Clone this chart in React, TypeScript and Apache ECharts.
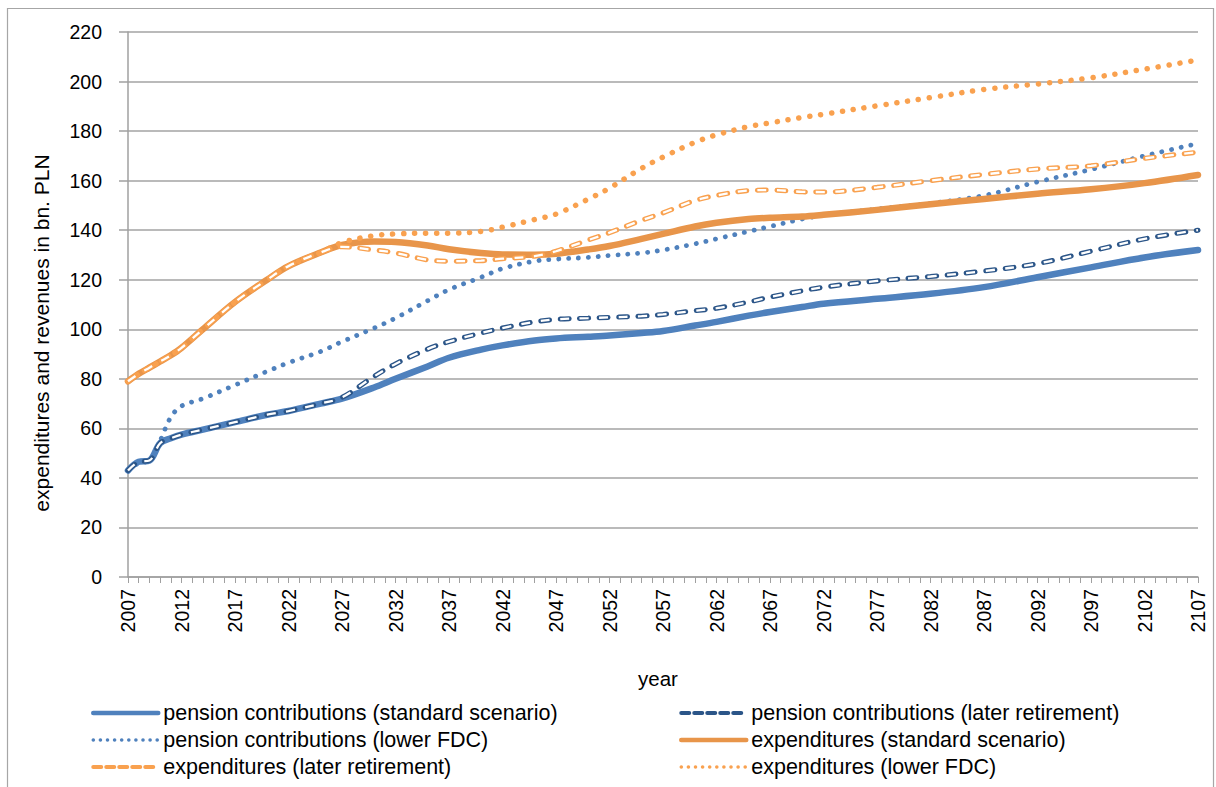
import React, { useEffect, useRef } from "react";
import * as echarts from "echarts";

// ---- data ----
const firstYear = 2007;
const lastYear = 2107;
const years: string[] = [];
for (let y = firstYear; y <= lastYear; y++) years.push(String(y));

const sampleYears = [
  2007, 2008, 2009, 2010, 2011, 2012, 2014, 2017, 2020, 2022, 2025, 2027, 2030, 2032, 2035, 2037,
  2040, 2042, 2045, 2047, 2050, 2052, 2055, 2057, 2060, 2062, 2065, 2067, 2070, 2072, 2077, 2082,
  2087, 2092, 2097, 2102, 2107,
];

const pcStandard = [
  43, 46.5, 47, 54, 56, 57.5, 59.5, 62.5, 65.5, 67, 70, 72, 76.5, 80, 85, 88.5,
  91.8, 93.5, 95.5, 96.3, 97, 97.5, 98.5, 99.3, 101.5, 103, 105.5, 107, 109, 110.3, 112.3, 114.3,
  117, 121, 125, 129, 132,
];
const pcLater = [
  43, 46.5, 47, 54, 56, 57.5, 59.5, 62.5, 65.5, 67, 70, 72.5, 81, 86, 92, 95,
  98.5, 100.5, 103, 104, 104.5, 104.8, 105.3, 106, 107.5, 108.5, 111, 113, 115.5, 117, 119.5, 121.3,
  123.5, 126.5, 131.5, 136.5, 140,
];
const pcLowerFdc = [
  43, 46, 47, 55, 64.5, 69, 72, 77.5, 83, 86.5, 91, 95, 100.5, 104.5, 111.5, 116,
  121, 124.5, 127.5, 128.3, 129, 129.8, 130.8, 132, 134.5, 136.5, 139.5, 141.5, 144.5, 146, 148.5, 150.8,
  154, 159.5, 164.5, 170, 175,
];
const expStandard = [
  79, 82, 84.5, 87, 89.5, 92.5, 100, 111, 120, 125.5, 131, 134, 135.4, 135.2, 133.8, 132.3,
  130.8, 130.2, 130.1, 130.5, 132.2, 133.6, 136.5, 138.5, 141.5, 143, 144.5, 145, 145.5, 146.2, 148.2, 150.5,
  152.6, 154.7, 156.5, 159, 162.3,
];
const expLater = [
  79, 82, 84.5, 87, 89.5, 92.5, 100, 111, 120, 125.5, 131, 133.3, 132, 130.8, 128, 127.5,
  127.7, 128.5, 129.5, 131.5, 136, 139, 144, 147, 152, 154, 156, 156.2, 155.5, 155.4, 157.3, 160,
  162.5, 164.7, 166, 169, 171.5,
];
const expLowerFdc = [
  79, 82, 84.5, 87, 89.5, 92.5, 100, 111, 120, 125.5, 131, 135, 137.8, 138.5, 138.8, 138.8,
  139.5, 141.2, 144.3, 146.5, 152.5, 157, 165, 169.5, 175.5, 178.5, 181.8, 183.3, 185.5, 186.8, 190.2, 193.5,
  196.8, 199, 201.5, 205, 208.7,
];

const yTicks = { min: 0, max: 220, interval: 20 };

const names = {
  pcStandard: "pension contributions (standard scenario)",
  pcLater: "pension contributions (later retirement)",
  pcLowerFdc: "pension contributions (lower FDC)",
  expStandard: "expenditures (standard scenario)",
  expLater: "expenditures (later retirement)",
  expLowerFdc: "expenditures (lower FDC)",
};

const yTitle = "expenditures and revenues in bn. PLN";
const xTitle = "year";

// ---- helpers ----
function toPairs(values: number[]): [string, number][] {
  return sampleYears.map((y, i) => [String(y), values[i]]);
}

const FONT = "'Liberation Sans', Arial, Helvetica, sans-serif";

function lineSeries(name: string, values: number[], lineStyle: any, z: number) {
  return {
    name,
    type: "line",
    data: toPairs(values),
    smooth: 0.35,
    showSymbol: false,
    symbol: "none",
    z,
    lineStyle,
    itemStyle: { color: lineStyle.color },
    emphasis: { disabled: true },
  };
}

const C_BLUE = "#4f81bd";
const C_NAVY = "#2b5588";
const C_ORANGE = "#e8954a";
const C_ORANGE_LIGHT = "#f9a14f";

const hollowDash = [9, 10.5];

const blueDot = { color: C_BLUE, width: 4.8, type: [0.1, 9.8], cap: "round" };
const orangeDot = { color: C_ORANGE_LIGHT, width: 5.5, type: [0.1, 10.9], cap: "round" };

export default function App() {
  const ref = useRef<HTMLDivElement>(null);
  useEffect(() => {
    document.body.style.margin = "0";
    const chart = echarts.init(ref.current!, undefined, { renderer: "svg" });
    const series = [
      lineSeries(names.pcStandard, pcStandard, { color: C_BLUE, width: 6.5, type: "solid", cap: "round", join: "round" }, 2),
      lineSeries(names.pcLowerFdc, pcLowerFdc, blueDot, 3),
      lineSeries(names.expStandard, expStandard, { color: C_ORANGE, width: 6.5, type: "solid", cap: "round", join: "round" }, 4),
      lineSeries(names.expLowerFdc, expLowerFdc, orangeDot, 5),
      lineSeries(names.pcLater, pcLater, { color: C_NAVY, width: 5, type: hollowDash, cap: "round" }, 6),
      lineSeries("pcLaterInner", pcLater, { color: "#ffffff", width: 2.3, type: hollowDash, cap: "butt" }, 7),
      lineSeries(names.expLater, expLater, { color: C_ORANGE_LIGHT, width: 5, type: hollowDash, cap: "round" }, 6),
      lineSeries("expLaterInner", expLater, { color: "#ffffff", width: 2.3, type: hollowDash, cap: "butt" }, 7),
    ];
    const legendBase = {
      orient: "vertical",
      top: 702,
      height: 84,
      padding: 0,
      itemWidth: 65,
      itemHeight: 14,
      itemGap: 5,
      itemStyle: { opacity: 0 },
      selectedMode: false,
      textStyle: { fontFamily: FONT, fontSize: 21.5, color: "#000", lineHeight: 22 },
    };
    const item = (name: string, ls: any) => ({ name, lineStyle: ls });
    chart.setOption({
      animation: false,
      backgroundColor: "#ffffff",
      textStyle: { fontFamily: FONT },
      grid: { left: 128, right: 18, top: 32, bottom: 210, containLabel: false },
      legend: [
        {
          ...legendBase,
          left: 91,
          data: [
            item(names.pcStandard, { color: C_BLUE, width: 4.5, type: "solid" }),
            item(names.pcLowerFdc, { color: C_BLUE, width: 3.5, type: [0.1, 7], cap: "round" }),
            item(names.expLater, { color: C_ORANGE_LIGHT, width: 4, type: [8, 5], cap: "round" }),
          ],
        },
        {
          ...legendBase,
          left: 679,
          data: [
            item(names.pcLater, { color: C_NAVY, width: 4, type: [8, 5], cap: "round" }),
            item(names.expStandard, { color: C_ORANGE, width: 4.5, type: "solid" }),
            item(names.expLowerFdc, { color: C_ORANGE_LIGHT, width: 3.5, type: [0.1, 7], cap: "round" }),
          ],
        },
      ],
      xAxis: {
        type: "category",
        data: years,
        boundaryGap: false,
        axisLine: { show: true, lineStyle: { color: "#a0a0a0", width: 1.5 } },
        axisTick: { show: true, interval: 0, length: 6, lineStyle: { color: "#a0a0a0", width: 1 } },
        axisLabel: {
          interval: 4,
          rotate: 90,
          margin: 12,
          fontSize: 19.5,
          color: "#000",
          fontFamily: FONT,
        },
        splitLine: { show: false },
      },
      yAxis: {
        type: "value",
        min: yTicks.min,
        max: yTicks.max,
        interval: yTicks.interval,
        axisLine: { show: true, lineStyle: { color: "#a0a0a0", width: 1.5 } },
        axisTick: { show: true, length: 9, lineStyle: { color: "#a0a0a0", width: 1.5 } },
        axisLabel: { margin: 26, fontSize: 19.5, color: "#000", fontFamily: FONT },
        splitLine: { show: true, lineStyle: { color: "#a3a3a3", width: 1.5 } },
      },
      graphic: [
        {
          type: "rect",
          shape: { x: 7.5, y: 8.5, width: 1206, height: 800 },
          style: { fill: "none", stroke: "#a6a6a6", lineWidth: 1.2 },
          silent: true,
          z: -1,
        },
        {
          type: "text",
          x: 41,
          y: 333,
          rotation: Math.PI / 2,
          style: {
            text: yTitle,
            fontSize: 21,
            fontFamily: FONT,
            fill: "#000",
            textAlign: "center",
            textVerticalAlign: "middle",
          },
        },
        {
          type: "text",
          x: 658,
          y: 678,
          style: {
            text: xTitle,
            fontSize: 20.5,
            fontFamily: FONT,
            fill: "#000",
            textAlign: "center",
            textVerticalAlign: "middle",
          },
        },
      ],
      series,
    });
    return () => chart.dispose();
  }, []);
  return <div ref={ref} style={{ width: 1216, height: 787 }} />;
}
